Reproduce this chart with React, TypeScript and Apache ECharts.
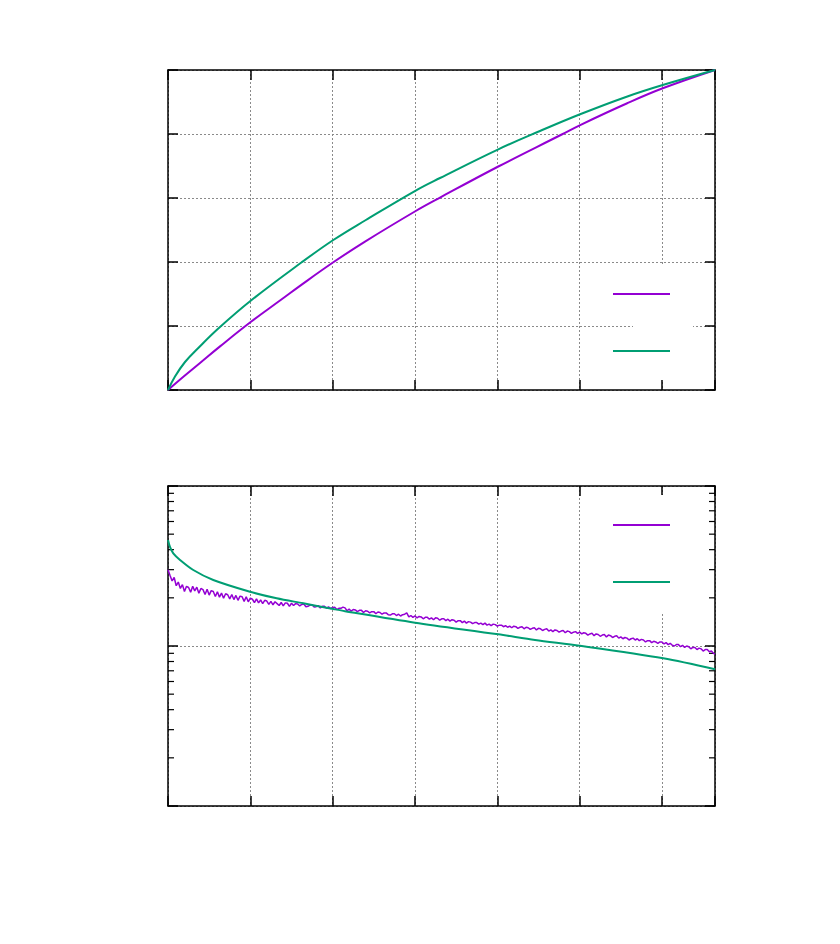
import React, { useEffect, useRef } from "react";
import * as echarts from "echarts";

// ---- shared x axis ----
const X_MAX = 6.644;
const X_INTERVAL = 1;

// ---- top panel (linear) ----
const topPurpleX = [0, 0.194, 0.389, 0.632, 1.008, 1.381, 1.624, 2.008, 2.393, 3.009, 3.304, 4.012, 4.782, 5.013, 5.571, 6.009, 6.644];
const topPurpleY = [0, 0.0428, 0.0844, 0.1363, 0.2131, 0.2834, 0.3294, 0.3991, 0.4638, 0.5594, 0.6013, 0.6984, 0.7984, 0.8288, 0.8953, 0.9428, 1.0];
const topGreenX = [0, 0.085, 0.2065, 0.368, 0.611, 1.008, 1.624, 2.008, 2.393, 3.009, 3.304, 4.012, 4.518, 5.013, 5.571, 6.009, 6.644];
const topGreenY = [0, 0.0422, 0.0875, 0.1313, 0.1922, 0.2797, 0.3991, 0.4688, 0.5297, 0.6234, 0.6625, 0.7522, 0.8094, 0.8625, 0.9166, 0.9531, 1.0];

// ---- bottom panel (log y) ----
const botGreenX = [0, 0.024, 0.064, 0.146, 0.307, 0.55, 0.996, 1.32, 1.643, 2.008, 2.15, 3.0, 4.012, 4.458, 5.004, 6.016, 6.644];
const botGreenY = [0.46, 0.416, 0.379, 0.345, 0.2985, 0.2585, 0.2183, 0.1986, 0.1849, 0.1702, 0.165, 0.1399, 0.1183, 0.109, 0.1004, 0.0838, 0.0715];

const botPurpleStep = 0.025;
const botPurpleY = [
  0.300, 0.276, 0.255, 0.268, 0.238, 0.251, 0.229, 0.242, 0.219, 0.236,
  0.232, 0.217, 0.236, 0.221, 0.233, 0.214, 0.229, 0.225, 0.210, 0.226,
  0.208, 0.222, 0.219, 0.204, 0.218, 0.202, 0.214, 0.199, 0.212, 0.209,
  0.197, 0.210, 0.195, 0.207, 0.193, 0.205, 0.203, 0.190, 0.203, 0.189,
  0.199, 0.196, 0.187, 0.197, 0.186, 0.194, 0.184, 0.193, 0.191, 0.182,
  0.190, 0.181, 0.189, 0.184, 0.179, 0.187, 0.178, 0.186, 0.185, 0.177,
  0.185, 0.179, 0.184, 0.183, 0.178, 0.182, 0.183, 0.176, 0.177, 0.180,
  0.181, 0.175, 0.176, 0.179, 0.173, 0.177, 0.177, 0.172, 0.176, 0.171,
  0.174, 0.175, 0.169, 0.172, 0.172, 0.175, 0.173, 0.166, 0.170, 0.165,
  0.169, 0.168, 0.164, 0.167, 0.167, 0.162, 0.166, 0.165, 0.161, 0.164,
  0.164, 0.159, 0.163, 0.162, 0.158, 0.161, 0.161, 0.157, 0.156, 0.159,
  0.159, 0.155, 0.158, 0.154, 0.157, 0.158, 0.161, 0.152, 0.155, 0.151,
  0.154, 0.150, 0.153, 0.152, 0.148, 0.151, 0.151, 0.147, 0.150, 0.146,
  0.150, 0.149, 0.145, 0.148, 0.148, 0.144, 0.147, 0.143, 0.146, 0.145,
  0.141, 0.144, 0.144, 0.140, 0.143, 0.139, 0.142, 0.141, 0.138, 0.140,
  0.140, 0.137, 0.139, 0.136, 0.139, 0.135, 0.137, 0.134, 0.137, 0.136,
  0.133, 0.135, 0.135, 0.132, 0.134, 0.131, 0.133, 0.130, 0.133, 0.132,
  0.129, 0.131, 0.132, 0.128, 0.131, 0.130, 0.127, 0.129, 0.130, 0.126,
  0.129, 0.128, 0.125, 0.127, 0.128, 0.124, 0.126, 0.123, 0.126, 0.125,
  0.122, 0.124, 0.125, 0.121, 0.124, 0.123, 0.120, 0.122, 0.123, 0.120,
  0.122, 0.119, 0.121, 0.120, 0.117, 0.119, 0.120, 0.116, 0.119, 0.118,
  0.115, 0.117, 0.118, 0.114, 0.117, 0.116, 0.113, 0.115, 0.116, 0.112,
  0.114, 0.111, 0.113, 0.112, 0.109, 0.111, 0.112, 0.109, 0.111, 0.108,
  0.110, 0.109, 0.106, 0.108, 0.108, 0.105, 0.107, 0.106, 0.104, 0.106,
  0.106, 0.103, 0.105, 0.102, 0.104, 0.101, 0.100, 0.102, 0.102, 0.099,
  0.101, 0.098, 0.100, 0.099, 0.096, 0.098, 0.098, 0.095, 0.097, 0.096,
  0.093, 0.095, 0.095, 0.092, 0.093, 0.090, 0.089,
];

const minorLogTicks = [0.02, 0.03, 0.04, 0.05, 0.06, 0.07, 0.08, 0.09, 0.2, 0.3, 0.4, 0.5, 0.6, 0.7, 0.8, 0.9];

const PURPLE = "#9400D3";
const GREEN = "#009E73";

const zip = (xs: number[], ys: number[]) => xs.map((x, i) => [x, ys[i]]);

export default function App() {
  const ref = useRef<HTMLDivElement>(null);
  useEffect(() => {
    if (!ref.current) return;
    const chart = echarts.init(ref.current, undefined, { renderer: "svg" });
    const grids = [
      { left: 168, top: 70, width: 547, height: 320 },
      { left: 168, top: 486, width: 547, height: 320 },
    ];
    const frameLine = { show: true, onZero: false, lineStyle: { color: "#000", width: 1.5 } };
    const tick = { show: true, inside: true, length: 10, lineStyle: { color: "#000", width: 1.5 } };
    const grid = { show: true, lineStyle: { color: "#8a8a8a", width: 1, type: [2, 2] as any } };
    const mkX = (gi: number, pos: string, split: boolean) => ({
      type: "value",
      gridIndex: gi,
      position: pos,
      min: 0,
      max: X_MAX,
      interval: X_INTERVAL,
      axisLine: frameLine,
      axisTick: tick,
      axisLabel: { show: false },
      splitLine: split ? grid : { show: false },
    });
    const mkYLin = (pos: string, split: boolean) => ({
      type: "value",
      gridIndex: 0,
      position: pos,
      min: 0,
      max: 1,
      interval: 0.2,
      axisLine: frameLine,
      axisTick: tick,
      axisLabel: { show: false },
      splitLine: split ? grid : { show: false },
    });
    const mkYLog = (pos: string, split: boolean) => ({
      type: "log",
      logBase: 10,
      gridIndex: 1,
      position: pos,
      min: 0.01,
      max: 1,
      axisLine: frameLine,
      axisTick: tick,
      axisLabel: { show: false },
      splitLine: split ? grid : { show: false },
    });
    const legendBase = {
      orient: "vertical",
      left: 613,
      padding: 0,
      icon: "rect",
      itemWidth: 57,
      itemHeight: 2,
      itemGap: 55,
      selectedMode: false,
      formatter: () => "",
    };

    const option: any = {
      animation: false,
      backgroundColor: "#fff",
      grid: grids,
      xAxis: [mkX(0, "bottom", true), mkX(0, "top", false), mkX(1, "bottom", true), mkX(1, "top", false)],
      yAxis: [mkYLin("left", true), mkYLin("right", false), mkYLog("left", true), mkYLog("right", false)],
      legend: [
        { ...legendBase, data: ["top-a", "top-b"], top: 293 },
        { ...legendBase, data: ["bot-a", "bot-b"], top: 524 },
      ],
      graphic: [
        { type: "rect", z: 1, shape: { x: 633, y: 265, width: 60, height: 115 }, style: { fill: "#fff" } },
        { type: "rect", z: 1, shape: { x: 633, y: 495, width: 60, height: 117 }, style: { fill: "#fff" } },
      ],
      series: [
        {
          name: "top-a",
          type: "line",
          xAxisIndex: 0,
          yAxisIndex: 0,
          data: zip(topPurpleX, topPurpleY),
          symbol: "none",
          smooth: 0.4,
          lineStyle: { color: PURPLE, width: 2 },
          itemStyle: { color: PURPLE },
        },
        {
          name: "top-b",
          type: "line",
          xAxisIndex: 0,
          yAxisIndex: 0,
          data: zip(topGreenX, topGreenY),
          symbol: "none",
          smooth: 0.4,
          lineStyle: { color: GREEN, width: 2 },
          itemStyle: { color: GREEN },
        },
        {
          name: "bot-a",
          type: "line",
          xAxisIndex: 2,
          yAxisIndex: 2,
          data: botPurpleY.map((v, i) => [Math.min(i * botPurpleStep, X_MAX), v]),
          symbol: "none",
          lineStyle: { color: PURPLE, width: 1.5 },
          itemStyle: { color: PURPLE },
        },
        {
          name: "bot-b",
          type: "line",
          xAxisIndex: 2,
          yAxisIndex: 2,
          data: zip(botGreenX, botGreenY),
          symbol: "none",
          smooth: 0.3,
          lineStyle: { color: GREEN, width: 2 },
          itemStyle: { color: GREEN },
        },
        {
          name: "minor-ticks",
          type: "custom",
          xAxisIndex: 2,
          yAxisIndex: 2,
          silent: true,
          data: minorLogTicks.map((v) => [0, v]),
          encode: { x: 0, y: 1 },
          renderItem: (params: any, api: any) => {
            const v = api.value(1);
            const l = api.coord([0, v]);
            const r = api.coord([X_MAX, v]);
            const st = { stroke: "#000", lineWidth: 1.2 };
            return {
              type: "group",
              children: [
                { type: "line", shape: { x1: l[0], y1: l[1], x2: l[0] + 6, y2: l[1] }, style: st },
                { type: "line", shape: { x1: r[0] - 6, y1: r[1], x2: r[0], y2: r[1] }, style: st },
              ],
            };
          },
        },
      ],
    };
    chart.setOption(option);
    return () => chart.dispose();
  }, []);
  return (
    <div
      ref={ref}
      style={{ position: "absolute", left: 0, top: 0, width: 840, height: 944, background: "#fff" }}
    />
  );
}
